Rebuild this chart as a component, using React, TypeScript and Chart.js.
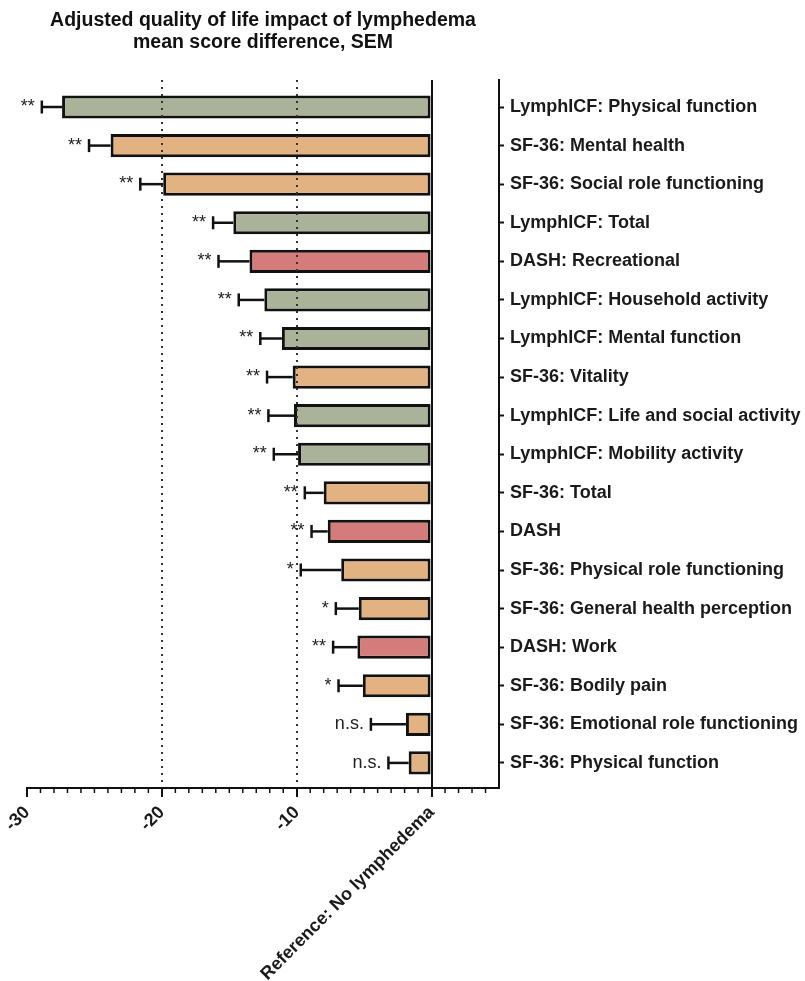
import React, { useEffect, useRef } from "react";
import { Chart, registerables } from "chart.js";

Chart.register(...registerables);

const categories = [
  "LymphICF: Physical function",
  "SF-36: Mental health",
  "SF-36: Social role functioning",
  "LymphICF: Total",
  "DASH: Recreational",
  "LymphICF: Household activity",
  "LymphICF: Mental function",
  "SF-36: Vitality",
  "LymphICF: Life and social activity",
  "LymphICF: Mobility activity",
  "SF-36: Total",
  "DASH",
  "SF-36: Physical role functioning",
  "SF-36: General health perception",
  "DASH: Work",
  "SF-36: Bodily pain",
  "SF-36: Emotional role functioning",
  "SF-36: Physical function",
];

const meanDiff = [
  -27.4, -23.8, -19.9, -14.7, -13.5, -12.4, -11.1, -10.3, -10.2, -9.9, -8.0, -7.7,
  -6.7, -5.4, -5.5, -5.1, -1.9, -1.7,
];

const sem = [
  1.5, 1.6, 1.7, 1.5, 2.3, 1.9, 1.6, 1.9, 1.9, 1.8, 1.4, 1.2, 3.0, 1.7, 1.8, 1.8,
  2.6, 1.5,
];

const significance = [
  "**", "**", "**", "**", "**", "**", "**", "**", "**", "**", "**", "**", "*", "*",
  "**", "*", "n.s.", "n.s.",
];

const instrumentColors: Record<string, string> = {
  LymphICF: "#aab39a",
  "SF-36": "#e2b283",
  DASH: "#d47c7c",
};

const xTickValues = [-30, -20, -10, 0];
const xTickLabels = ["-30", "-20", "-10", "Reference: No lymphedema"];
const dottedGridValues = [-20, -10];

const titleLines = [
  "Adjusted quality of life impact of lymphedema",
  "mean score difference, SEM",
];

const FONT = "'Liberation Sans', Arial, Helvetica, sans-serif";

const instrumentOf = (label: string) => label.split(":")[0];

const errorBarPlugin = {
  id: "errorBars",
  afterDatasetsDraw(chart: any) {
    const ctx = chart.ctx;
    const xs = chart.scales.x;
    const meta = chart.getDatasetMeta(0);
    ctx.save();
    meta.data.forEach((bar: any, i: number) => {
      const y = bar.y;
      const x0 = xs.getPixelForValue(meanDiff[i]);
      const x1 = xs.getPixelForValue(meanDiff[i] - sem[i]);
      ctx.strokeStyle = "#111";
      ctx.lineWidth = 2.5;
      ctx.beginPath();
      ctx.moveTo(x0, y);
      ctx.lineTo(x1, y);
      ctx.stroke();
      ctx.beginPath();
      ctx.moveTo(x1, y - 6.5);
      ctx.lineTo(x1, y + 6.5);
      ctx.stroke();
      ctx.fillStyle = "#222";
      ctx.font = `18px ${FONT}`;
      ctx.textAlign = "right";
      ctx.textBaseline = "middle";
      ctx.fillText(significance[i], x1 - 7, y);
    });
    ctx.restore();
  },
  afterDraw(chart: any) {
    const ctx = chart.ctx;
    const xs = chart.scales.x;
    const bottom = chart.chartArea.bottom;
    ctx.save();
    ctx.strokeStyle = "#111";
    ctx.lineWidth = 1.5;
    for (let v = xs.min + 1; v < xs.max; v++) {
      if (v % 10 === 0) continue;
      const px = xs.getPixelForValue(v);
      ctx.beginPath();
      ctx.moveTo(px, bottom);
      ctx.lineTo(px, bottom + 5);
      ctx.stroke();
    }
    ctx.restore();
  },
};

export default function App() {
  const ref = useRef<HTMLCanvasElement>(null);

  useEffect(() => {
    if (!ref.current) return;
    Chart.defaults.font.family = FONT;
    const chart = new Chart(ref.current, {
      type: "bar",
      data: {
        datasets: [
          {
            data: meanDiff.map((m, i) => ({ x: m, y: i })),
            backgroundColor: categories.map((c) => instrumentColors[instrumentOf(c)]),
            borderColor: "#111",
            borderWidth: 3,
            borderSkipped: false,
            barPercentage: 0.6,
            categoryPercentage: 1,
          },
        ],
      },
      options: {
        indexAxis: "y",
        responsive: false,
        animation: false,
        layout: { padding: { left: 27, right: 0, top: 0, bottom: 0 } },
        plugins: {
          legend: { display: false },
          tooltip: { enabled: false },
          title: {
            display: true,
            fullSize: false,
            text: titleLines,
            color: "#111",
            font: { size: 19.5, weight: "bold", lineHeight: "22px" },
            padding: { top: 10, bottom: 26 },
          },
        },
        scales: {
          x: {
            type: "linear",
            min: -30,
            max: 5,
            afterFit: (s: any) => {
              s.height = 193;
            },
            ticks: {
              stepSize: 1,
              autoSkip: false,
              minRotation: 45,
              maxRotation: 45,
              padding: 5,
              color: "#1a1a1a",
              font: { size: 18, weight: "bold" },
              callback: (v: any) => {
                const idx = xTickValues.indexOf(Number(v));
                return idx >= 0 ? xTickLabels[idx] : "";
              },
            },
            grid: {
              z: 1,
              drawTicks: true,
              tickLength: 9,
              tickWidth: 2,
              tickColor: (c: any) =>
                c.tick && xTickValues.includes(c.tick.value) ? "#111" : "rgba(0,0,0,0)",
              color: (c: any) => {
                if (!c.tick) return "rgba(0,0,0,0)";
                if (dottedGridValues.includes(c.tick.value)) return "#333";
                if (c.tick.value === 0) return "#111";
                return "rgba(0,0,0,0)";
              },
              lineWidth: 2,
            },
            border: {
              display: true,
              z: 1,
              color: "#111",
              width: 2,
              dash: (c: any) =>
                c.type === "tick" && c.tick && dottedGridValues.includes(c.tick.value)
                  ? [2, 5]
                  : [],
            },
          },
          y: {
            type: "linear",
            position: "right",
            reverse: true,
            offset: false,
            min: -0.7,
            max: 17.65,
            afterBuildTicks: (s: any) => {
              s.ticks = categories.map((_, i) => ({ value: i }));
            },
            afterFit: (s: any) => {
              s.width = 306;
            },
            ticks: {
              autoSkip: false,
              padding: 6,
              color: "#1a1a1a",
              font: { size: 18, weight: "bold" },
              callback: (v: any) => categories[Number(v)] ?? "",
            },
            grid: {
              offset: false,
              drawOnChartArea: false,
              drawTicks: true,
              tickLength: 5,
              tickWidth: 2,
              tickColor: "#111",
            },
            border: { display: true, color: "#111", width: 2 },
          },
        },
      },
      plugins: [errorBarPlugin],
    });
    return () => chart.destroy();
  }, []);

  return (
    <canvas
      ref={ref}
      width={805}
      height={981}
      style={{ position: "fixed", left: 0, top: 0, width: 805, height: 981 }}
    />
  );
}
